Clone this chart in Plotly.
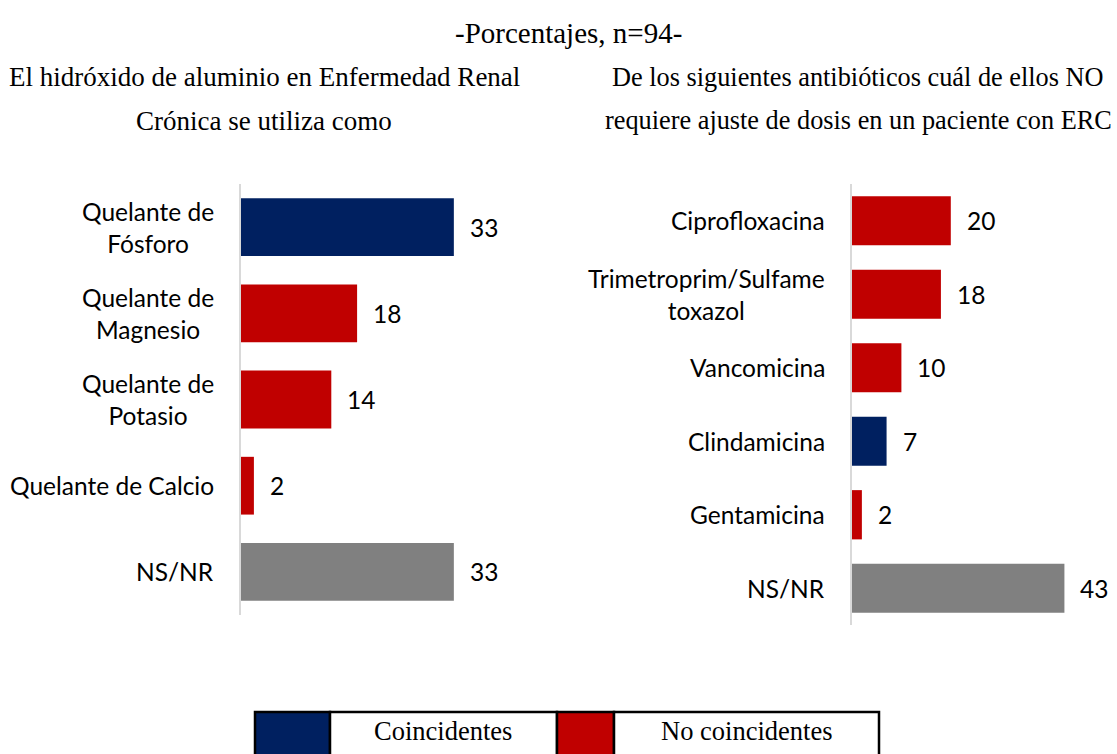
import plotly.graph_objects as go

# ---------------- data ----------------
left_categories = ["Quelante de<br>Fósforo", "Quelante de<br>Magnesio", "Quelante de<br>Potasio",
                   "Quelante de Calcio", "NS/NR"]
left_values = [33, 18, 14, 2, 33]
left_groups = ["coin", "no", "no", "no", "nsnr"]

right_categories = ["Ciprofloxacina", "Trimetroprim/Sulfame<br>toxazol", "Vancomicina",
                    "Clindamicina", "Gentamicina", "NS/NR"]
right_values = [20, 18, 10, 7, 2, 43]
right_groups = ["no", "no", "no", "coin", "no", "nsnr"]

title_text = "-Porcentajes, n=94-"
left_title = ["El hidróxido de aluminio en Enfermedad Renal", "Crónica se utiliza como"]
right_title = ["De los siguientes antibióticos cuál de ellos NO",
               "requiere ajuste de dosis en un paciente con ERC"]
legend_labels = ["Coincidentes", "No coincidentes"]

# ---------------- style ----------------
W, H = 1117, 754
COLORS = {"coin": "#002060", "no": "#C00000", "nsnr": "#808080"}
SANS = "Lato, Carlito, Calibri, sans-serif"
SERIF = "Liberation Serif, Times New Roman, serif"
AXIS_COLOR = "#D9D9D9"
LBL = 24.5


def px(x):
    return x / W


def py(y):
    return (H - y) / H


fig = go.Figure()

fig.add_trace(go.Bar(
    y=left_categories, x=left_values, orientation="h",
    marker=dict(color=[COLORS[g] for g in left_groups], line=dict(width=0)),
    xaxis="x", yaxis="y", showlegend=False, hoverinfo="skip",
))
fig.add_trace(go.Bar(
    y=right_categories, x=right_values, orientation="h",
    marker=dict(color=[COLORS[g] for g in right_groups], line=dict(width=0)),
    xaxis="x2", yaxis="y2", showlegend=False, hoverinfo="skip",
))

# axis geometry (pixels)
L_X0, L_SCALE = 241, 6.45
R_X0, R_SCALE = 852, 4.94
L_X1, R_X1 = 520, 1110

fig.update_layout(
    width=W, height=H,
    margin=dict(l=0, r=0, t=0, b=0),
    paper_bgcolor="white", plot_bgcolor="white",
    bargap=0.33,
    xaxis=dict(domain=[px(L_X0), px(L_X1)], range=[0, (L_X1 - L_X0) / L_SCALE],
               visible=False, fixedrange=True),
    yaxis=dict(domain=[py(615), py(184)], autorange="reversed",
               showticklabels=False, ticks="", showgrid=False, zeroline=False,
               showline=True, linecolor=AXIS_COLOR, linewidth=2, anchor="x"),
    xaxis2=dict(domain=[px(R_X0), px(R_X1)], range=[0, (R_X1 - R_X0) / R_SCALE],
                visible=False, fixedrange=True, anchor="y2"),
    yaxis2=dict(domain=[py(625), py(184)], autorange="reversed",
                showticklabels=False, ticks="", showgrid=False, zeroline=False,
                showline=True, linecolor=AXIS_COLOR, linewidth=2, anchor="x2"),
)

ann = []
# category labels
for cat in left_categories:
    ann.append(dict(x=px(216), xref="paper", y=cat, yref="y", text=cat,
                    xanchor="right", yanchor="middle", align="center", showarrow=False,
                    font=dict(family=SANS, size=LBL, color="black")))
for cat in right_categories:
    ann.append(dict(x=px(827), xref="paper", y=cat, yref="y2", text=cat,
                    xanchor="right", yanchor="middle", align="center", showarrow=False,
                    font=dict(family=SANS, size=LBL, color="black")))
# value labels
for cat, v in zip(left_categories, left_values):
    ann.append(dict(x=v, xref="x", y=cat, yref="y", text=str(v), xanchor="left",
                    yanchor="middle", xshift=14, showarrow=False,
                    font=dict(family=SANS, size=LBL, color="black")))
for cat, v in zip(right_categories, right_values):
    ann.append(dict(x=v, xref="x2", y=cat, yref="y2", text=str(v), xanchor="left",
                    yanchor="middle", xshift=14, showarrow=False,
                    font=dict(family=SANS, size=LBL, color="black")))

# titles
ann.append(dict(x=px(568), y=py(33), xref="paper", yref="paper", text=title_text,
                showarrow=False, xanchor="center", yanchor="middle",
                font=dict(family=SERIF, size=29, color="black")))
for i, t in enumerate(left_title):
    ann.append(dict(x=px(264), y=py(77 + 44 * i), xref="paper", yref="paper", text=t,
                    showarrow=False, xanchor="center", yanchor="middle",
                    font=dict(family=SERIF, size=27, color="black")))
for i, t in enumerate(right_title):
    ann.append(dict(x=px(858), y=py(77 + 44 * i), xref="paper", yref="paper", text=t,
                    showarrow=False, xanchor="center", yanchor="middle",
                    font=dict(family=SERIF, size=26.3, color="black")))

# legend table
cells = [(255, 330, COLORS["coin"]), (330, 557, "white"),
         (557, 614, COLORS["no"]), (614, 879, "white")]
shapes = []
for x0, x1, c in cells:
    shapes.append(dict(type="rect", xref="paper", yref="paper",
                       x0=px(x0), x1=px(x1), y0=py(770), y1=py(712),
                       fillcolor=c, line=dict(color="black", width=2.5), layer="above"))
ann.append(dict(x=px(443), y=py(731), xref="paper", yref="paper", text=legend_labels[0],
                showarrow=False, xanchor="center", yanchor="middle",
                font=dict(family=SERIF, size=26.5, color="black")))
ann.append(dict(x=px(746), y=py(731), xref="paper", yref="paper", text=legend_labels[1],
                showarrow=False, xanchor="center", yanchor="middle",
                font=dict(family=SERIF, size=26.5, color="black")))

fig.update_layout(annotations=ann, shapes=shapes)
fig.write_html(
    "out.html",
    config={"displayModeBar": False, "staticPlot": True},
    post_script="document.body.style.margin='0';document.body.style.overflow='hidden';",
)
